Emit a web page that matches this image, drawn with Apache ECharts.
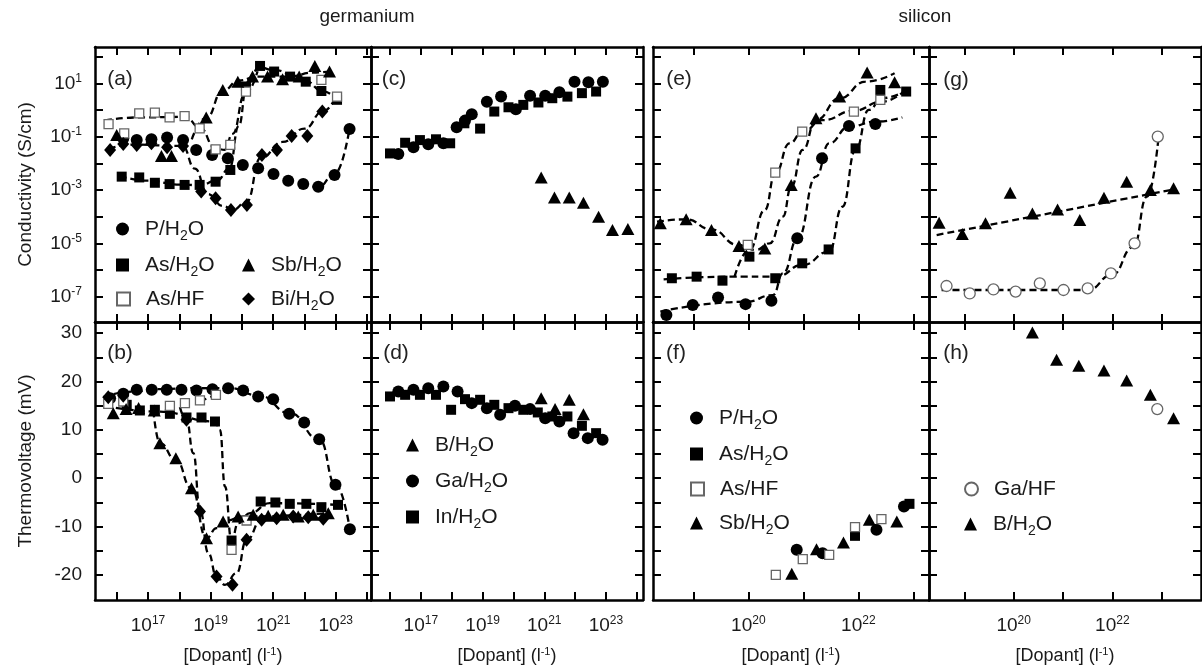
<!DOCTYPE html>
<html><head><meta charset="utf-8">
<script src="https://cdn.jsdelivr.net/npm/echarts@6/dist/echarts.min.js"></script>
<style>html,body{margin:0;padding:0;background:#fff}#c{width:1202px;height:670px}</style>
</head><body><div id="c"></div>
<script>
// x values: log10([Dopant] in l^-1); conductivity values: log10(S/cm); thermovoltage in mV.
const xTicksGe = [16,17,18,19,20,21,22,23,24];
const xLabelsGe = [17,19,21,23];
const xTicksSi = [19,20,21,22,23];
const xLabelsSi = [20,22];
const yTicksCond = [-7,-6,-5,-4,-3,-2,-1,0,1,2];
const yLabelsCond = [-7,-5,-3,-1,1];
const yTicksTV = [-20,-15,-10,-5,0,5,10,15,20,25,30];
const yLabelsTV = [-20,-10,0,10,20,30];

// ---- (a) germanium, n-type, conductivity
const a_P = [[16.21,-1.06],[16.64,-1.13],[17.11,-1.10],[17.61,-1.03],[18.12,-1.13],[18.54,-1.50],[19.05,-1.69],[19.55,-1.81],[20.03,-2.06],[20.52,-2.19],[21.01,-2.40],[21.48,-2.65],[21.96,-2.78],[22.44,-2.88],[22.96,-2.44],[23.44,-0.71]];
const a_AsH2O = [[16.16,-2.50],[16.72,-2.53],[17.22,-2.73],[17.69,-2.78],[18.17,-2.81],[18.65,-2.81],[19.16,-2.69],[19.63,-2.25],[20.13,0.88],[20.58,1.65],[21.03,1.44],[21.54,1.25],[22.04,1.06],[22.54,0.71],[23.04,0.38]];
const a_AsHF = [[15.74,-0.53],[16.24,-0.88],[16.72,-0.13],[17.22,-0.10],[17.69,-0.28],[18.17,-0.23],[18.65,-0.69],[19.16,-1.48],[19.63,-1.31],[20.13,0.69],[22.54,1.13],[23.04,0.50]];
const a_Sb = [[16.00,-0.94],[17.43,-1.73],[17.75,-1.73],[18.86,-0.28],[19.39,0.75],[19.87,1.06],[20.34,1.25],[20.82,1.25],[21.30,1.15],[21.83,1.25],[22.33,1.65],[22.80,1.44]];
const a_Bi = [[15.79,-1.50],[16.21,-1.28],[16.64,-1.31],[17.11,-1.25],[17.61,-1.40],[18.12,-1.35],[18.70,-3.06],[19.16,-3.31],[19.65,-3.75],[20.16,-3.56],[20.64,-1.69],[21.12,-1.50],[21.59,-0.98],[22.09,-0.98],[22.57,-0.06]];
const a_fitP = [[21.9,-2.85],[22.45,-2.88],[22.96,-2.4],[23.44,-0.7]];
const a_fitAsH2O = [[16.1,-2.48],[17.0,-2.65],[18.0,-2.8],[18.65,-2.82],[19.2,-2.65],[19.6,-2.2],[19.9,-0.6],[20.15,0.85],[20.55,1.6],[21.0,1.5],[22.0,1.1],[22.6,0.7],[23.05,0.35]];
const a_fitAsHF = [[15.63,-0.4],[16.7,-0.28],[18.2,-0.26],[18.65,-0.65],[19.15,-1.42],[19.45,-1.5],[19.7,-0.9],[20.1,0.6],[20.5,1.45]];
const a_fitSb = [[18.4,-1.1],[18.86,-0.3],[19.39,0.72],[19.9,1.1],[20.5,1.25],[21.5,1.25],[22.3,1.4],[22.8,1.45]];
const a_fitBi = [[15.75,-1.45],[16.5,-1.3],[18.1,-1.35],[18.5,-2.2],[18.9,-3.15],[19.4,-3.6],[19.7,-3.75],[20.15,-3.45],[20.6,-1.8],[21.3,-1.2],[22.0,-0.7],[22.6,-0.05],[23.0,0.5]];

// ---- (c) germanium, p-type, conductivity
const c_Ga = [[16.27,-1.65],[16.76,-1.40],[17.24,-1.29],[17.73,-1.25],[18.16,-0.65],[18.43,-0.40],[18.65,-0.16],[19.14,0.31],[19.60,0.50],[20.08,0.03],[20.54,0.53],[21.03,0.53],[21.49,0.66],[21.98,1.06],[22.43,1.04],[22.90,1.06]];
const c_In = [[16.00,-1.63],[16.49,-1.23],[16.97,-1.13],[17.49,-1.10],[17.95,-1.25],[18.41,-0.50],[18.92,-0.70],[19.38,-0.06],[19.84,0.10],[20.32,0.19],[20.81,0.28],[21.26,0.44],[21.75,0.50],[22.22,0.63],[22.68,0.69]];
const c_B = [[20.90,-2.53],[21.33,-3.28],[21.81,-3.28],[22.27,-3.48],[22.76,-4.00],[23.21,-4.50],[23.71,-4.46]];

// ---- (e) silicon, n-type, conductivity
const e_P = [[18.51,-7.69],[18.99,-7.31],[19.45,-7.03],[19.95,-7.28],[20.42,-7.15],[20.89,-4.81],[21.34,-1.81],[21.83,-0.60],[22.31,-0.53]];
const e_AsH2O = [[18.61,-6.31],[19.06,-6.25],[19.53,-6.40],[20.02,-5.50],[20.49,-6.31],[20.98,-5.75],[21.46,-5.23],[21.95,-1.44],[22.40,0.75],[22.87,0.69]];
const e_AsHF = [[19.99,-5.06],[20.49,-2.35],[20.98,-0.81],[21.92,-0.06],[22.40,0.38]];
const e_Sb = [[18.40,-4.25],[18.87,-4.10],[19.33,-4.50],[19.83,-5.10],[20.30,-5.19],[20.78,-2.81],[21.23,-0.31],[21.66,0.50],[22.16,1.40],[22.66,1.04]];
const e_fitP = [[18.4,-7.56],[19.96,-7.19],[20.45,-6.94],[20.63,-6.13],[20.9,-4.81],[21.23,-2.5],[21.47,-1.25],[21.83,-0.63],[22.31,-0.44],[22.8,-0.28]];
const e_fitAsH2O = [[18.46,-6.35],[19.72,-6.25],[20.51,-6.25],[20.99,-5.81],[21.47,-5.31],[21.71,-3.63],[21.95,-1.5],[22.19,0],[22.43,0.44],[22.89,0.75]];
const e_fitAsHF = [[19.75,-6.25],[20.02,-5.25],[20.3,-3.75],[20.49,-2.38],[20.75,-1.25],[20.99,-0.81],[21.35,-0.38],[21.92,-0.03],[22.43,0.31],[22.89,0.81]];
const e_fitSb = [[18.34,-4.19],[18.87,-4.1],[19.33,-4.48],[19.81,-5.06],[20.14,-5.25],[20.39,-5.0],[20.63,-4.0],[20.78,-2.88],[20.99,-1.5],[21.23,-0.38],[21.66,0.44],[22.13,1.06],[22.66,1.38]];

// ---- (g) silicon, p-type, conductivity
const g_B = [[18.49,-4.23],[18.96,-4.65],[19.43,-4.25],[19.93,-3.10],[20.38,-3.88],[20.89,-3.73],[21.34,-4.13],[21.83,-3.29],[22.29,-2.69],[22.77,-3.00],[23.24,-2.94]];
const g_GaHF = [[18.64,-6.60],[19.11,-6.88],[19.59,-6.73],[20.04,-6.81],[20.53,-6.50],[21.01,-6.75],[21.50,-6.69],[21.97,-6.13],[22.45,-5.00],[22.92,-1.00]];
const g_fitB = [[18.44,-4.69],[23.24,-2.98]];
const g_fitGa = [[18.54,-6.75],[21.51,-6.75],[21.99,-6.19],[22.43,-5.13],[22.7,-3.25],[22.93,-1.13]];

// ---- (b) germanium, n-type, thermovoltage
const b_P = [[15.79,16.55],[16.21,17.45],[16.64,18.28],[17.12,18.28],[17.60,18.28],[18.07,18.28],[18.55,18.14],[19.06,18.41],[19.56,18.62],[20.04,18.14],[20.52,16.90],[21.00,16.34],[21.51,13.31],[21.99,11.52],[22.47,8.07],[22.99,-1.38],[23.45,-10.55]];
const b_AsH2O = [[16.32,15.17],[16.74,14.00],[17.22,14.14],[17.70,13.31],[18.23,12.55],[18.71,12.55],[19.14,11.72],[19.67,-12.90],[20.60,-4.83],[21.07,-5.03],[21.53,-5.31],[22.06,-5.31],[22.54,-6.00],[23.07,-5.52]];
const b_AsHF = [[15.73,15.38],[16.21,15.86],[17.70,14.97],[18.18,15.52],[18.66,16.07],[19.17,17.24],[19.67,-14.83],[20.15,-8.76]];
const b_Sb = [[15.89,13.45],[16.30,14.30],[16.70,14.50],[17.20,14.00],[17.38,7.24],[17.89,4.14],[18.39,-2.07],[18.87,-12.41],[19.40,-8.97],[19.88,-7.93],[20.36,-7.59],[20.84,-7.79],[21.32,-7.59],[21.80,-7.93],[22.28,-7.59],[22.76,-7.24]];
const b_Bi = [[15.73,16.76],[16.21,17.03],[18.23,12.07],[18.66,-6.90],[19.19,-20.34],[19.70,-22.07],[20.15,-12.76],[20.63,-8.62],[21.11,-8.28],[21.64,-7.93],[22.12,-8.07],[22.60,-8.41]];
const b_fitP = [[15.57,16.76],[16.5,17.9],[17.28,18.41],[18.5,18.6],[19.62,18.62],[20.57,17.03],[21.53,13.45],[22.49,7.93],[22.99,-1.38],[23.45,-10.55]];
const b_fitAsH2O = [[15.63,14.97],[17.28,13.79],[19.14,11.72],[19.3,10.0],[19.46,-1.72],[19.67,-12.9],[19.88,-9.31],[20.26,-7.24],[20.89,-5.17],[23.07,-5.52]];
const b_fitAsHF = [[18.66,15.9],[19.2,17.3]];
const b_fitSb = [[17.17,14.0],[17.38,7.24],[17.89,3.79],[18.39,-2.07],[18.87,-12.41],[19.19,-10.34],[19.46,-8.83],[20.04,-7.93],[22.76,-7.24]];
const b_fitBi = [[18.02,14.69],[18.23,12.07],[18.45,5.17],[18.66,-6.55],[18.93,-15.52],[19.19,-20.34],[19.46,-22.07],[19.83,-19.66],[20.15,-12.76],[20.63,-8.62],[21.53,-8.28],[22.6,-8.41]];

// ---- (d) germanium, p-type, thermovoltage
const d_Ga = [[16.27,17.93],[16.76,18.28],[17.24,18.62],[17.73,18.97],[18.19,17.93],[18.65,15.52],[19.14,14.48],[19.57,13.10],[20.05,14.97],[20.54,14.28],[21.03,12.41],[21.49,11.72],[21.95,9.31],[22.41,8.28],[22.89,7.93]];
const d_In = [[16.00,16.90],[16.49,17.24],[16.97,17.24],[17.49,17.24],[17.98,14.14],[18.43,16.34],[18.92,16.21],[19.38,15.17],[19.84,14.48],[20.32,14.14],[20.79,13.59],[21.26,12.76],[21.75,12.76],[22.22,10.83],[22.68,9.31]];
const d_B = [[20.90,16.55],[21.35,14.28],[21.81,16.21],[22.27,13.24]];

// ---- (f) silicon, n-type, thermovoltage
const f_P = [[20.88,-14.83],[21.35,-15.52],[22.33,-10.69],[22.83,-5.86]];
const f_AsH2O = [[21.94,-11.93],[22.93,-5.31]];
const f_AsHF = [[20.50,-20.00],[20.99,-16.76],[21.47,-15.86],[21.94,-10.14],[22.42,-8.48]];
const f_Sb = [[20.79,-19.79],[21.24,-14.69],[21.73,-13.31],[22.20,-8.62],[22.70,-8.97]];

// ---- (h) silicon, p-type, thermovoltage
const h_B = [[20.38,30.14],[20.87,24.48],[21.32,23.24],[21.83,22.28],[22.29,20.21],[22.77,17.24],[23.24,12.41]];
const h_GaHF = [[22.91,14.28]];

const FONT = '"Liberation Sans", Arial, Helvetica, sans-serif';
const TXT = '#1a1a1a';

const panels = [
  {left:95,  top:47,  width:276, height:275, xr:[15.307,24.125], xt:xTicksGe, xl:xLabelsGe, row:0, ylab:true},
  {left:371, top:47,  width:272, height:275, xr:[15.384,24.2],   xt:xTicksGe, xl:xLabelsGe, row:0},
  {left:653, top:47,  width:276, height:275, xr:[18.267,23.285], xt:xTicksSi, xl:xLabelsSi, row:0},
  {left:929, top:47,  width:272, height:275, xr:[18.285,23.796], xt:xTicksSi, xl:xLabelsSi, row:0},
  {left:95,  top:322, width:276, height:278, xr:[15.307,24.125], xt:xTicksGe, xl:xLabelsGe, row:1, ylab:true},
  {left:371, top:322, width:272, height:278, xr:[15.384,24.2],   xt:xTicksGe, xl:xLabelsGe, row:1},
  {left:653, top:322, width:276, height:278, xr:[18.267,23.285], xt:xTicksSi, xl:xLabelsSi, row:1},
  {left:929, top:322, width:272, height:278, xr:[18.285,23.796], xt:xTicksSi, xl:xLabelsSi, row:1}
];
const yRange = [[-7.95, 2.36], [-25.2, 32.3]];

const richP = {p:{fontSize:12, fontFamily:FONT, color:TXT, padding:[0,0,10,0]}};
const pow10 = v => '10{p|' + v + '}';

const grid = [], xAxis = [], yAxis = [];
panels.forEach((p, i) => {
  grid.push({left:p.left, top:p.top, width:p.width, height:p.height, show:false, containLabel:false, outerBoundsMode:'none'});
  const line = {show:true, onZero:false, lineStyle:{color:'#000', width:2.5}};
  const tick = vals => ({show:true, inside:true, length:8, customValues:vals, lineStyle:{color:'#000', width:2}});
  ['bottom','top'].forEach(pos => {
    const lab = pos==='bottom' && p.row===1;
    xAxis.push({
      type:'value', gridIndex:i, position:pos, min:p.xr[0], max:p.xr[1],
      axisLine:line, axisTick:tick(p.xt), splitLine:{show:false},
      axisLabel:{show:lab, customValues:p.xl, margin:15, formatter:pow10,
        fontFamily:FONT, fontSize:19, color:TXT, rich:richP},
      name: lab ? '[Dopant] (l{p|-1})' : '',
      nameLocation:'middle', nameGap:46, nameMoveOverlap:false,
      nameTextStyle:{fontFamily:FONT, fontSize:18, color:TXT, rich:{p:{fontSize:11, fontFamily:FONT, color:TXT, padding:[0,0,9,0]}}}
    });
  });
  const yr = yRange[p.row];
  const yt = p.row===0 ? yTicksCond : yTicksTV;
  const yl = p.row===0 ? yLabelsCond : yLabelsTV;
  ['left','right'].forEach(pos => {
    const showLab = pos==='left' && p.ylab;
    yAxis.push({
      type:'value', gridIndex:i, position:pos, min:yr[0], max:yr[1],
      axisLine:line, axisTick:tick(yt), splitLine:{show:false},
      axisLabel:{show:showLab, customValues:yl, margin:13,
        formatter: p.row===0 ? pow10 : (v => String(v)),
        fontFamily:FONT, fontSize:19, color:TXT, rich:richP},
      name: showLab ? (p.row===0 ? 'Conductivity (S/cm)' : 'Thermovoltage (mV)') : '',
      nameLocation:'middle', nameGap:60, nameMoveOverlap:false,
      nameTextStyle:{fontFamily:FONT, fontSize:19, color:TXT}
    });
  });
});

const styles = {
  'P/H2O':  {symbol:'circle', symbolSize:12, itemStyle:{color:'#000', opacity:1}},
  'As/H2O': {symbol:'rect', symbolSize:10, itemStyle:{color:'#000', opacity:1}},
  'As/HF':  {symbol:'rect', symbolSize:9, itemStyle:{color:'#fff', borderColor:'#666', borderWidth:1.3, opacity:1}},
  'Sb/H2O': {symbol:'triangle', symbolSize:[13,12], itemStyle:{color:'#000', opacity:1}},
  'Bi/H2O': {symbol:'diamond', symbolSize:[12,14], itemStyle:{color:'#000', opacity:1}},
  'B/H2O':  {symbol:'triangle', symbolSize:[13,12], itemStyle:{color:'#000', opacity:1}},
  'Ga/H2O': {symbol:'circle', symbolSize:12, itemStyle:{color:'#000', opacity:1}},
  'In/H2O': {symbol:'rect', symbolSize:10, itemStyle:{color:'#000', opacity:1}},
  'Ga/HF':  {symbol:'circle', symbolSize:11, itemStyle:{color:'#fff', borderColor:'#666', borderWidth:1.3, opacity:1}}
};
const series = [];
function fit(g, data) {
  series.push({type:'line', name:'fit'+g+'_'+series.length, xAxisIndex:2*g, yAxisIndex:2*g, data,
    smooth:true, smoothMonotone:'x', symbol:'none', silent:true, z:1, clip:true,
    lineStyle:{color:'#000', width:2.3, type:[7,4], opacity:1}});
}
function pts(g, name, data) {
  const s = styles[name];
  series.push(Object.assign({type:'scatter', name, xAxisIndex:2*g, yAxisIndex:2*g, data, z:3, clip:true, silent:true}, s));
}
fit(0,a_fitP); fit(0,a_fitAsH2O); fit(0,a_fitAsHF); fit(0,a_fitSb); fit(0,a_fitBi);
fit(2,e_fitP); fit(2,e_fitAsH2O); fit(2,e_fitAsHF); fit(2,e_fitSb);
fit(3,g_fitB); fit(3,g_fitGa);
fit(4,b_fitP); fit(4,b_fitAsH2O); fit(4,b_fitAsHF); fit(4,b_fitSb); fit(4,b_fitBi);
pts(0,'P/H2O',a_P); pts(0,'As/H2O',a_AsH2O); pts(0,'As/HF',a_AsHF); pts(0,'Sb/H2O',a_Sb); pts(0,'Bi/H2O',a_Bi);
pts(1,'B/H2O',c_B); pts(1,'Ga/H2O',c_Ga); pts(1,'In/H2O',c_In);
pts(2,'P/H2O',e_P); pts(2,'As/H2O',e_AsH2O); pts(2,'As/HF',e_AsHF); pts(2,'Sb/H2O',e_Sb);
pts(3,'Ga/HF',g_GaHF); pts(3,'B/H2O',g_B);
pts(4,'P/H2O',b_P); pts(4,'As/H2O',b_AsH2O); pts(4,'As/HF',b_AsHF); pts(4,'Sb/H2O',b_Sb); pts(4,'Bi/H2O',b_Bi);
pts(5,'B/H2O',d_B); pts(5,'Ga/H2O',d_Ga); pts(5,'In/H2O',d_In);
pts(6,'P/H2O',f_P); pts(6,'As/H2O',f_AsH2O); pts(6,'As/HF',f_AsHF); pts(6,'Sb/H2O',f_Sb);
pts(7,'Ga/HF',h_GaHF); pts(7,'B/H2O',h_B);

const legendItems = [
  ['P/H2O',123,229],['As/H2O',123,265],['As/HF',123,299],['Sb/H2O',249,265],['Bi/H2O',249,299],
  ['B/H2O',413,445],['Ga/H2O',413,481],['In/H2O',413,517],
  ['P/H2O',697,418],['As/H2O',697,454],['As/HF',697,489],['Sb/H2O',697,523],
  ['Ga/HF',971,489],['B/H2O',971,524]
];
const legend = legendItems.map(([n,x,y]) => ({
  data:[n], left:x-7, top:y-13, padding:0, orient:'vertical', selectedMode:false,
  itemWidth:13, itemHeight:13, itemGap:0,
  formatter: s => s.replace('H2O','H{s|2}O'),
  textStyle:{fontFamily:FONT, fontSize:21, color:TXT, padding:[0,0,0,11], lineHeight:26,
    rich:{s:{fontFamily:FONT, fontSize:14, color:TXT, padding:[14,0,0,0]}}}
}));

const labels = [['(a)',120,79],['(c)',394,79],['(e)',679,79],['(g)',956,80],['(b)',120,353],['(d)',396,353],['(f)',676,353],['(h)',956,353]];
const graphic = labels.map(([t,x,y]) => ({type:'text', x, y, z:10, style:{text:t, fontFamily:FONT, fontSize:21, fill:'#222', align:'center', verticalAlign:'middle'}}));
graphic.push({type:'text', x:367, y:17, style:{text:'germanium', fontFamily:FONT, fontSize:19, fill:TXT, align:'center', verticalAlign:'middle'}});
graphic.push({type:'text', x:925, y:17, style:{text:'silicon', fontFamily:FONT, fontSize:19, fill:TXT, align:'center', verticalAlign:'middle'}});

const chart = echarts.init(document.getElementById('c'), null, {renderer:'canvas'});
chart.setOption({animation:false, backgroundColor:'#fff', grid, xAxis, yAxis, series, legend, graphic});
</script></body></html>
